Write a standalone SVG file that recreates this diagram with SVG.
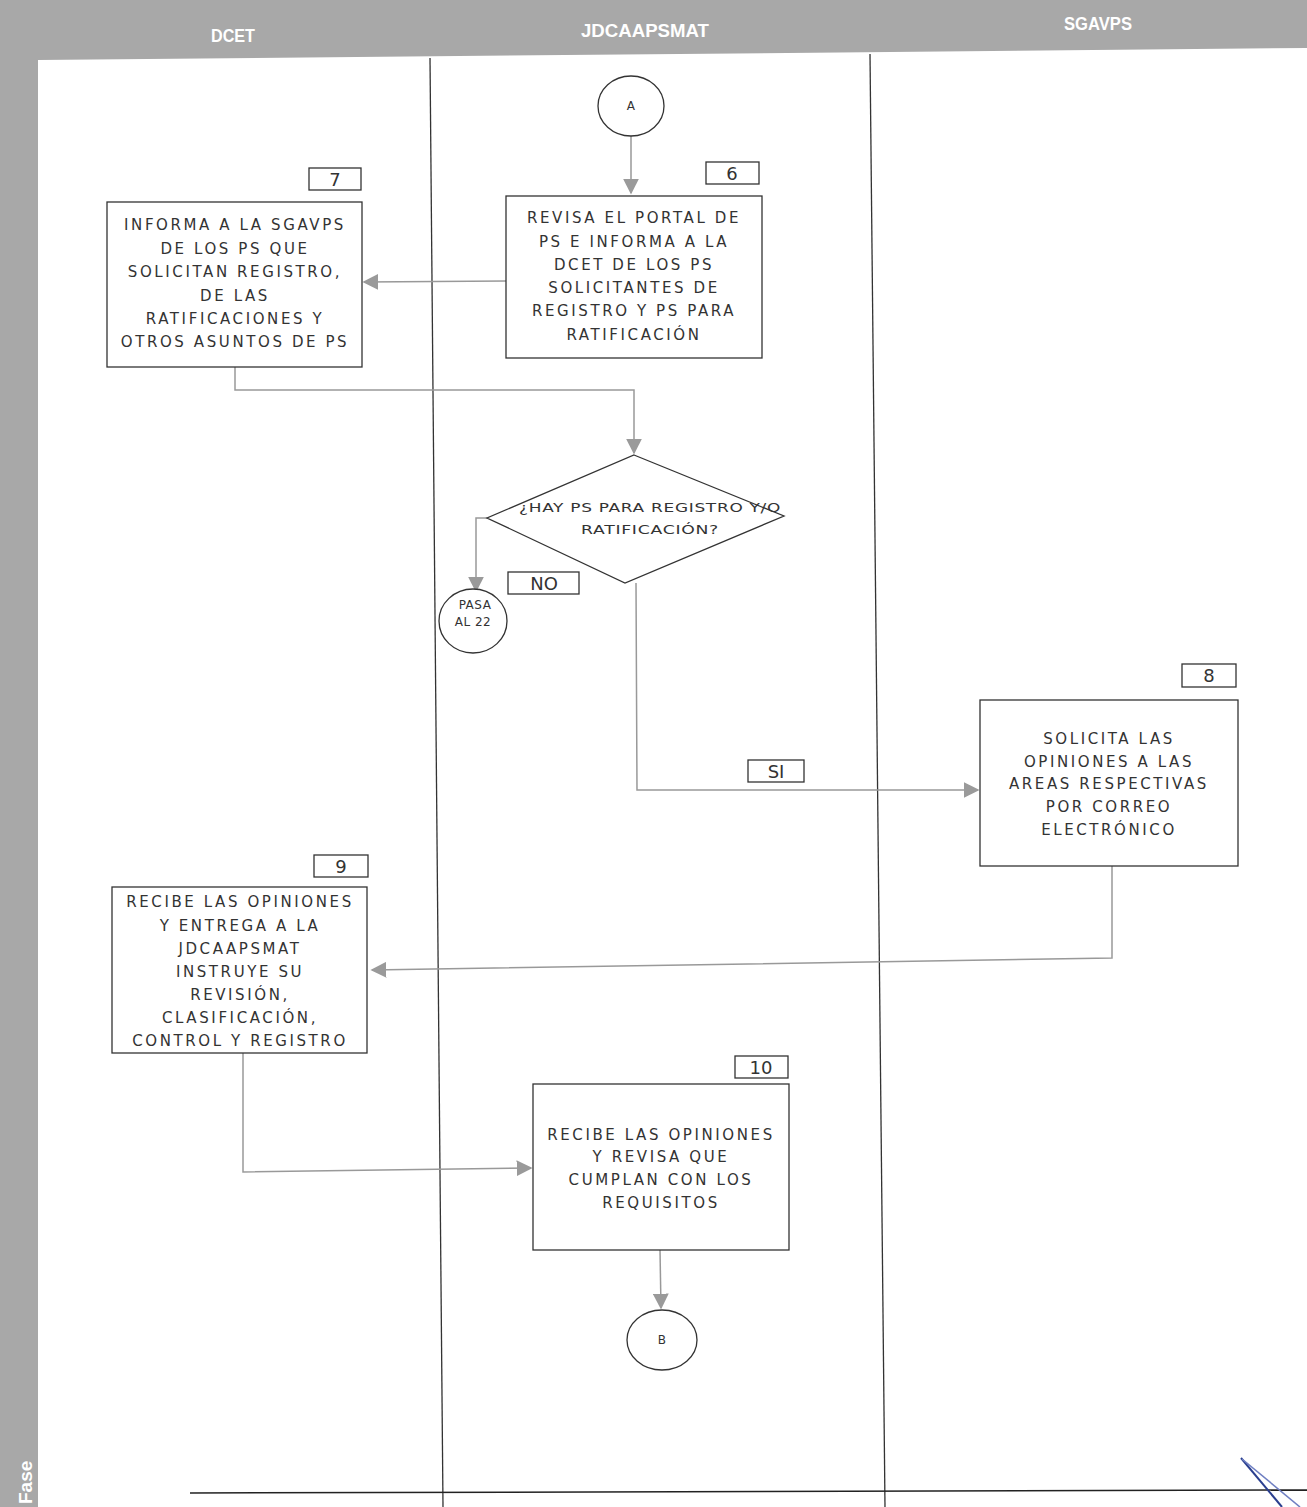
<svg xmlns="http://www.w3.org/2000/svg" width="1307" height="1507" viewBox="0 0 1307 1507">
<defs>
<marker id="ah" viewBox="0 0 10 10" refX="9" refY="5" markerWidth="16" markerHeight="16" markerUnits="userSpaceOnUse" orient="auto">
<path d="M0,0 L10,5 L0,10 Z" fill="#9a9a9a"/>
</marker>
<style>
.bg{fill:#a8a8a8}
.hd{font-family:"Liberation Sans",Arial,sans-serif;font-weight:bold;font-size:19px;fill:#ffffff}
.lane{stroke:#333;stroke-width:1.3;fill:none}
.box{fill:#fff;stroke:#333;stroke-width:1.3}
.t{font-family:"DejaVu Sans",sans-serif;font-size:15px;letter-spacing:2.6px;fill:#333;text-anchor:middle}
.ts{font-family:"DejaVu Sans",sans-serif;font-size:12px;letter-spacing:0.5px;fill:#333;text-anchor:middle}
.num{font-family:"DejaVu Sans",sans-serif;font-size:18px;fill:#333;text-anchor:middle}
.c{stroke:#999;stroke-width:1.5;fill:none;marker-end:url(#ah)}
</style>
</defs>
<rect class="bg" x="0" y="0" width="1307" height="1507"/>
<polygon points="38,60 1307,48 1307,1507 38,1507" fill="#ffffff"/>
<g id="header">
<text class="hd" x="233" y="42" text-anchor="middle" textLength="44" lengthAdjust="spacingAndGlyphs">DCET</text>
<text class="hd" x="645" y="37" text-anchor="middle" textLength="128" lengthAdjust="spacingAndGlyphs">JDCAAPSMAT</text>
<text class="hd" x="1098" y="30" text-anchor="middle" textLength="68" lengthAdjust="spacingAndGlyphs">SGAVPS</text>
<text class="hd" transform="translate(32,1504) rotate(-90)" font-size="15">Fase</text>
</g>
<g id="lanes">
<line class="lane" x1="430" y1="58" x2="443" y2="1507"/>
<line class="lane" x1="870" y1="54" x2="885" y2="1507"/>
<line x1="190" y1="1493" x2="1307" y2="1490" stroke="#222" stroke-width="1.5"/>
<line x1="1241" y1="1458" x2="1282" y2="1507" stroke="#2a3f8f" stroke-width="2"/>
<line x1="1242" y1="1459" x2="1300" y2="1507" stroke="#6f7fc2" stroke-width="1.6"/>
</g>
<g id="connectors">
<line class="c" x1="631" y1="136" x2="631" y2="193"/>
<line class="c" x1="506" y1="281" x2="364" y2="282"/>
<polyline class="c" points="235,367 235,390 634,390 634,453"/>
<polyline class="c" points="487,518 476,518 476,591"/>
<polyline class="c" points="636,583 637,790 978,790"/>
<polyline class="c" points="1112,866 1112,958 372,970"/>
<polyline class="c" points="243,1053 243,1172 531,1168"/>
<line class="c" x1="660" y1="1250" x2="661" y2="1308"/>
</g>
<g id="nodeA">
<ellipse class="box" cx="631" cy="106" rx="33" ry="30"/>
<text class="ts" x="631" y="110">A</text>
</g>
<g id="node6">
<rect class="box" x="706" y="162" width="53" height="22"/>
<text class="num" x="732" y="180">6</text>
<rect class="box" x="506" y="196" width="256" height="162"/>
<text class="t" x="634" y="223">REVISA EL PORTAL DE</text>
<text class="t" x="634" y="247">PS E INFORMA A LA</text>
<text class="t" x="634" y="270">DCET DE LOS PS</text>
<text class="t" x="634" y="293">SOLICITANTES DE</text>
<text class="t" x="634" y="316">REGISTRO Y PS PARA</text>
<text class="t" x="634" y="340">RATIFICACIÓN</text>
</g>
<g id="node7">
<rect class="box" x="309" y="168" width="52" height="22"/>
<text class="num" x="335" y="186">7</text>
<rect class="box" x="107" y="202" width="255" height="165"/>
<text class="t" x="235" y="230">INFORMA A LA SGAVPS</text>
<text class="t" x="235" y="254">DE LOS PS QUE</text>
<text class="t" x="235" y="277">SOLICITAN REGISTRO,</text>
<text class="t" x="235" y="301">DE LAS</text>
<text class="t" x="235" y="324">RATIFICACIONES Y</text>
<text class="t" x="235" y="347">OTROS ASUNTOS DE PS</text>
</g>
<g id="decision">
<polygon class="box" points="634,455 784,516 625,583 487,518"/>
<text class="ts" x="650" y="512" textLength="262" lengthAdjust="spacingAndGlyphs">¿HAY PS PARA REGISTRO Y/O</text>
<text class="ts" x="650" y="534" textLength="138" lengthAdjust="spacingAndGlyphs">RATIFICACIÓN?</text>
</g>
<g id="labelNO">
<rect class="box" x="508" y="572" width="71" height="22"/>
<text class="num" x="544" y="590">NO</text>
</g>
<g id="pasa22">
<ellipse class="box" cx="473" cy="621" rx="34" ry="32"/>
<text class="ts" x="475" y="609">PASA</text>
<text class="ts" x="473" y="626">AL 22</text>
</g>
<g id="labelSI">
<rect class="box" x="748" y="760" width="56" height="22"/>
<text class="num" x="776" y="778">SI</text>
</g>
<g id="node8">
<rect class="box" x="1182" y="664" width="54" height="23"/>
<text class="num" x="1209" y="682">8</text>
<rect class="box" x="980" y="700" width="258" height="166"/>
<text class="t" x="1109" y="744">SOLICITA LAS</text>
<text class="t" x="1109" y="767">OPINIONES A LAS</text>
<text class="t" x="1109" y="789">AREAS RESPECTIVAS</text>
<text class="t" x="1109" y="812">POR CORREO</text>
<text class="t" x="1109" y="835">ELECTRÓNICO</text>
</g>
<g id="node9">
<rect class="box" x="314" y="855" width="54" height="22"/>
<text class="num" x="341" y="873">9</text>
<rect class="box" x="112" y="887" width="255" height="166"/>
<text class="t" x="240" y="907">RECIBE LAS OPINIONES</text>
<text class="t" x="240" y="931">Y ENTREGA A LA</text>
<text class="t" x="240" y="954">JDCAAPSMAT</text>
<text class="t" x="240" y="977">INSTRUYE SU</text>
<text class="t" x="240" y="1000">REVISIÓN,</text>
<text class="t" x="240" y="1023">CLASIFICACIÓN,</text>
<text class="t" x="240" y="1046">CONTROL Y REGISTRO</text>
</g>
<g id="node10">
<rect class="box" x="735" y="1056" width="53" height="22"/>
<text class="num" x="761" y="1074">10</text>
<rect class="box" x="533" y="1084" width="256" height="166"/>
<text class="t" x="661" y="1140">RECIBE LAS OPINIONES</text>
<text class="t" x="661" y="1162">Y REVISA QUE</text>
<text class="t" x="661" y="1185">CUMPLAN CON LOS</text>
<text class="t" x="661" y="1208">REQUISITOS</text>
</g>
<g id="nodeB">
<ellipse class="box" cx="662" cy="1340" rx="35" ry="30"/>
<text class="ts" x="662" y="1344">B</text>
</g>
</svg>
